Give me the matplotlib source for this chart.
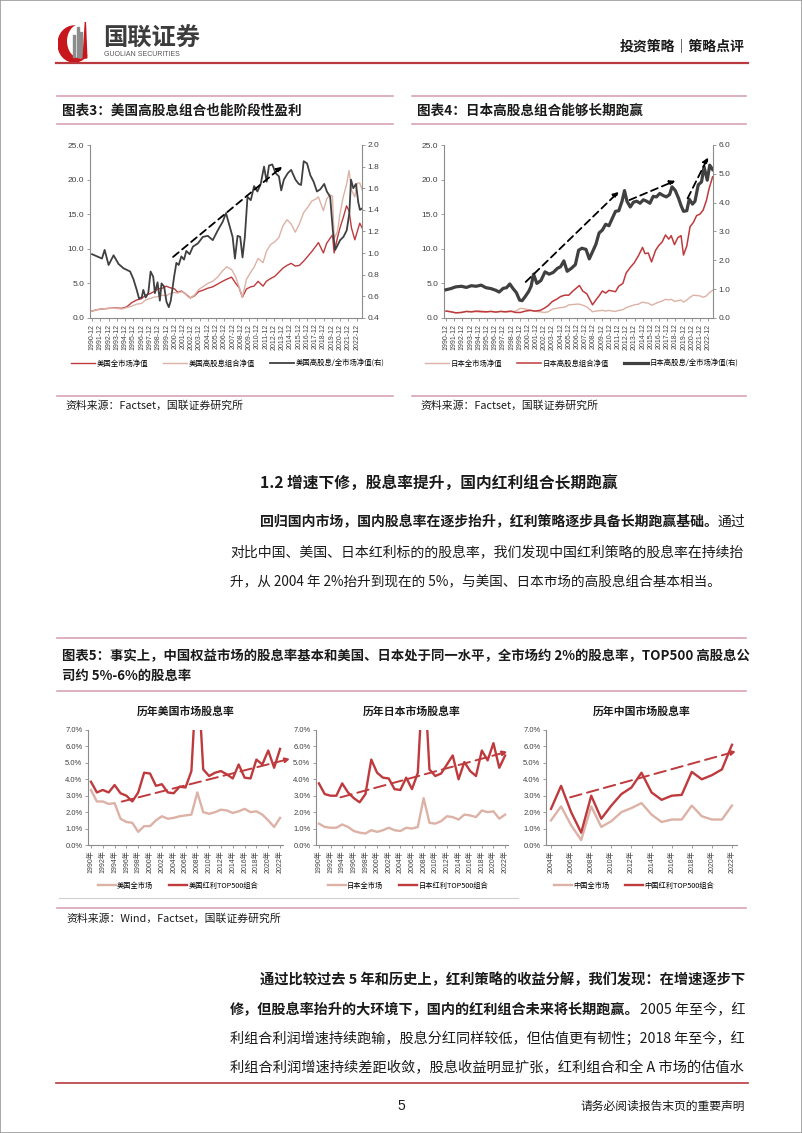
import matplotlib
matplotlib.use('Agg')
import matplotlib.pyplot as plt
import matplotlib.ticker as mticker
from matplotlib.lines import Line2D
from matplotlib.patches import Ellipse, Rectangle, Polygon

plt.rcParams['font.family'] = ['Liberation Sans', 'Noto Sans CJK SC', 'DejaVu Sans']
CJK = ['Noto Sans CJK SC', 'DejaVu Sans']

RED = '#BE3A3D'
LIGHT = '#DDB2A6'
DARK = '#404040'
PINK = '#D9A3B3'
TXT = '#1a1a1a'

# ---------------- data: chart 3 (US net values, monthly-ish samples) ----------------
us_nav_t = [1990.92, 1991.5, 1992.1, 1993.0, 1993.8, 1994.5, 1995.1, 1995.7, 1996.3, 1996.9,
            1997.4, 1997.9, 1998.4, 1998.9, 1999.4, 1999.9, 2000.3, 2000.9, 2001.3, 2001.7,
            2002.1, 2002.5, 2002.8, 2003.3, 2003.8, 2004.3, 2004.9, 2005.5, 2006.1, 2006.7,
            2007.2, 2007.8, 2008.3, 2008.7, 2009.1, 2009.6, 2010.1, 2010.5, 2011.0, 2011.6,
            2012.0, 2012.5, 2013.0, 2013.5, 2014.0, 2014.5, 2015.0, 2015.5, 2016.0, 2016.5,
            2017.0, 2017.5, 2018.0, 2018.3, 2018.9, 2019.3, 2019.7, 2020.0, 2020.2, 2020.6,
            2020.9, 2021.3, 2021.7, 2022.0, 2022.3, 2022.7, 2023.0, 2023.3, 2023.6]
us_market = [1.0, 1.2, 1.3, 1.4, 1.45, 1.4, 1.6, 2.2, 2.6, 2.8,
             3.3, 3.5, 3.8, 4.2, 4.3, 4.6, 4.4, 4.2, 3.7, 3.9,
             3.6, 3.2, 2.9, 3.2, 3.8, 4.0, 4.3, 4.5, 4.9, 5.3,
             5.6, 5.9, 5.0, 4.4, 3.0, 4.2, 4.5, 4.6, 5.3, 4.6,
             5.3, 5.7, 6.0, 6.6, 7.2, 7.6, 7.9, 7.5, 7.6, 8.2,
             8.9, 9.6, 10.4, 10.9, 9.4, 10.8, 11.5, 12.0, 9.4, 11.6,
             13.0, 14.5, 16.2, 15.5, 13.0, 11.3, 12.5, 13.7, 13.0]
us_highdiv = [1.0, 1.2, 1.3, 1.4, 1.4, 1.3, 1.5, 1.7, 2.0, 2.1,
              2.6, 2.8, 3.0, 3.1, 3.3, 3.2, 3.5, 3.7, 3.6, 3.8,
              3.6, 3.1, 2.9, 3.3, 4.1, 4.5, 5.0, 5.3, 5.9, 6.8,
              7.4, 7.0, 5.9, 4.5, 3.0, 5.6, 6.6, 7.3, 8.6, 8.0,
              9.6, 10.6, 11.0, 11.6, 13.3, 14.2, 13.6, 12.4, 13.6, 15.2,
              16.0, 16.9, 17.2, 17.5, 15.5, 17.2, 17.8, 17.6, 11.5, 12.5,
              15.0, 17.5, 19.3, 21.3, 18.5, 17.5, 19.5, 19.5, 18.5]
us_ratio_t = [1990.92, 1992.12, 1992.44, 1992.92, 1993.52, 1994.12, 1994.72, 1995.52, 1995.92, 1996.32,
              1996.6, 1996.92, 1997.12, 1997.4, 1997.72, 1998.0, 1998.32, 1998.52, 1998.84, 1999.12,
              1999.32, 1999.64, 1999.92, 2000.2, 2000.44, 2000.84, 2001.12, 2001.4, 2001.72, 2002.04,
              2002.32, 2002.72, 2003.12, 2003.72, 2004.32, 2004.92, 2005.52, 2006.12, 2006.72, 2007.12,
              2007.52, 2007.92, 2008.2, 2008.52, 2008.84, 2009.12, 2009.4, 2009.72, 2010.12, 2010.52,
              2010.92, 2011.32, 2011.72, 2012.04, 2012.32, 2012.72, 2013.12, 2013.52, 2013.8, 2014.12,
              2014.6, 2015.0, 2015.52, 2015.92, 2016.2, 2016.52, 2016.92, 2017.32, 2017.72, 2018.12,
              2018.52, 2019.0, 2019.32, 2019.72, 2020.04, 2020.32, 2020.6, 2020.92, 2021.32, 2021.72,
              2022.04, 2022.24, 2022.52, 2022.84, 2023.12, 2023.32, 2023.52]
us_ratio = [0.99, 0.95, 1.03, 0.89, 0.98, 0.90, 0.86, 0.83, 0.76, 0.66,
            0.58, 0.59, 0.66, 0.59, 0.63, 0.83, 0.78, 0.63, 0.73, 0.56,
            0.72, 0.69, 0.55, 0.50, 0.56, 0.78, 0.91, 0.89, 0.97, 0.94,
            1.02, 0.99, 1.06, 1.09, 1.15, 1.16, 1.12, 1.21, 1.29, 1.37,
            1.26, 1.15, 0.95, 1.16, 1.15, 0.96, 1.15, 1.52, 1.49, 1.62,
            1.57, 1.64, 1.80, 1.66, 1.81, 1.82, 1.74, 1.71, 1.58, 1.68,
            1.74, 1.77, 1.68, 1.64, 1.63, 1.85, 1.83, 1.72, 1.66, 1.57,
            1.59, 1.64, 1.57, 1.52, 1.21, 1.03, 1.07, 1.12, 1.15, 1.21,
            1.37, 1.68, 1.60, 1.64, 1.47, 1.40, 1.41]
us_trend = [(2000.72, 0.965), (2013.92, 1.80)]

# ---------------- data: chart 4 (Japan net values) ----------------
jp_nav_t = [1990.92, 1991.5, 1992.1, 1992.8, 1993.4, 1994.0, 1994.6, 1995.2, 1995.8, 1996.4,
            1997.0, 1997.6, 1998.2, 1998.8, 1999.4, 2000.0, 2000.6, 2001.2, 2001.8, 2002.4,
            2002.9, 2003.4, 2003.9, 2004.4, 2004.9, 2005.4, 2005.9, 2006.4, 2006.9, 2007.2,
            2007.6, 2008.1, 2008.5, 2008.8, 2009.2, 2009.6, 2010.0, 2010.4, 2010.8, 2011.2,
            2011.6, 2012.0, 2012.5, 2012.9, 2013.4, 2013.9, 2014.4, 2014.9, 2015.2, 2015.6,
            2016.0, 2016.5, 2016.9, 2017.3, 2017.7, 2018.1, 2018.4, 2018.8, 2019.2, 2019.6,
            2019.9, 2020.3, 2020.7, 2021.1, 2021.5, 2021.9, 2022.3, 2022.7, 2023.0, 2023.45]
jp_highdiv = [1.0, 0.9, 0.75, 0.8, 0.95, 0.9, 1.0, 0.95, 0.9, 0.95,
              0.85, 0.95, 0.9, 1.0, 0.8, 0.8, 1.0, 1.1, 1.0, 1.1,
              1.4, 1.8, 2.4, 2.7, 3.1, 3.3, 3.3, 3.9, 4.4, 4.7,
              3.9, 3.5, 2.6, 1.9, 2.6, 3.2, 3.9, 3.6, 4.0, 3.9,
              3.8, 4.6, 5.0, 6.5, 7.3, 8.0, 9.0, 10.2, 9.3, 9.4,
              8.1, 9.8, 10.5, 11.0, 12.0, 11.4, 11.9, 10.6, 11.6, 11.9,
              9.1, 10.4, 13.2, 13.8, 14.8, 15.0, 15.6, 17.0, 18.6, 20.4]
jp_market = [1.0, 0.9, 0.75, 0.8, 0.95, 0.85, 0.9, 0.85, 0.85, 0.95,
             0.9, 0.95, 0.85, 0.9, 1.0, 1.4, 1.3, 1.15, 0.95, 0.9,
             0.8, 0.9, 1.3, 1.4, 1.5, 1.55, 1.9, 1.95, 2.0, 2.0,
             1.85, 1.6, 1.2, 0.9, 1.0, 1.05, 1.1, 1.0, 1.1, 1.0,
             0.95, 1.1, 1.2, 1.5, 1.7, 1.9, 2.0, 2.3, 2.2, 2.15,
             1.85, 2.1, 2.3, 2.45, 2.7, 2.6, 2.7, 2.4, 2.5, 2.6,
             2.3, 2.6, 3.0, 3.3, 3.25, 3.2, 3.0, 3.2, 3.6, 4.0]
jp_ratio_t = [1990.92, 1991.5, 1992.1, 1992.8, 1993.4, 1994.0, 1994.6, 1995.2, 1995.8, 1996.4,
              1997.0, 1997.4, 1997.9, 1998.3, 1998.7, 1999.1, 1999.5, 1999.9, 2000.2, 2000.6,
              2001.0, 2001.3, 2001.6, 2002.0, 2002.5, 2003.0, 2003.5, 2004.0, 2004.5, 2004.9,
              2005.3, 2005.7, 2006.2, 2006.7, 2007.1, 2007.5, 2008.0, 2008.4, 2008.8, 2009.2,
              2009.6, 2010.0, 2010.4, 2010.8, 2011.2, 2011.6, 2012.0, 2012.4, 2012.7, 2013.0,
              2013.4, 2013.8, 2014.2, 2014.6, 2015.0, 2015.4, 2015.8, 2016.2, 2016.6, 2017.0,
              2017.4, 2017.8, 2018.2, 2018.5, 2018.9, 2019.3, 2019.6, 2019.9, 2020.3, 2020.6,
              2021.0, 2021.3, 2021.7, 2022.1, 2022.4, 2022.8, 2023.1, 2023.45]
jp_ratio = [0.98, 1.02, 1.08, 1.10, 1.06, 1.12, 1.10, 1.14, 1.05, 1.02,
            0.96, 0.90, 1.03, 1.05, 1.18, 1.02, 0.88, 0.62, 0.60, 0.75,
            0.92, 1.10, 1.52, 1.20, 1.30, 1.60, 1.52, 1.58, 1.72, 1.78,
            1.98, 1.62, 1.72, 1.85, 2.35, 2.42, 2.38, 2.05, 2.30, 2.55,
            2.95, 3.05, 3.25, 3.20, 3.45, 3.70, 3.72, 4.05, 4.42, 4.05,
            3.85, 4.02, 4.05, 3.98, 4.10, 4.05, 3.98, 4.22, 4.20, 4.32,
            4.25, 4.20, 4.28, 4.55, 4.42, 4.15, 3.90, 3.70, 3.72, 4.12,
            3.95, 4.05, 4.62, 4.72, 5.25, 4.78, 5.30, 5.15]
jp_trends = [[(2000.64, 1.25), (2012.0, 4.38)],
             [(2013.3, 4.09), (2018.9, 4.76)],
             [(2020.4, 4.15), (2022.9, 5.57)]]

# ---------------- data: figure 5 (dividend yields, %) ----------------
yrs_long = list(range(1990, 2023))
us_top500 = [3.85, 3.2, 3.35, 3.2, 3.65, 3.15, 3.0, 2.65, 3.2, 4.4,
             4.35, 3.6, 3.7, 3.2, 3.15, 3.55, 3.5, 4.5, 11.0, 4.6,
             4.2, 4.4, 4.5, 4.3, 4.05, 4.9, 4.1, 4.05, 5.2, 4.9,
             5.75, 4.7, 5.85]
us_all = [3.35, 2.65, 2.65, 2.5, 2.55, 1.6, 1.4, 1.35, 0.8, 1.15,
          1.15, 1.5, 1.75, 1.6, 1.65, 1.75, 1.8, 1.85, 3.2, 2.0,
          1.9, 2.0, 2.15, 2.1, 1.95, 2.05, 2.2, 2.0, 2.05, 1.85,
          1.5, 1.1, 1.65]
jp_top500 = [3.75, 3.1, 3.0, 3.0, 3.75, 3.2, 2.85, 2.6, 3.1, 5.2,
             4.4, 4.1, 4.05, 3.4, 3.35, 4.1, 3.4, 4.4, 11.0, 4.6,
             4.2, 4.35, 4.9, 5.45, 4.0, 5.05, 4.5, 4.2, 5.75, 5.15,
             6.2, 4.7, 5.45]
jp_all = [1.3, 1.1, 1.05, 1.05, 1.25, 1.1, 0.85, 0.75, 0.7, 0.9,
          0.8, 0.9, 1.05, 0.9, 0.85, 1.05, 1.0, 1.1, 2.85, 1.35,
          1.3, 1.45, 1.75, 1.7, 1.55, 1.85, 1.8, 1.7, 2.1, 2.0,
          2.05, 1.6, 1.85]
yrs_cn = list(range(2004, 2023))
cn_top500 = [2.2, 3.6, 2.0, 0.75, 3.0, 1.6, 2.4, 3.1, 3.5, 4.4,
             3.2, 2.75, 3.0, 3.05, 4.45, 4.0, 4.25, 4.6, 6.1]
cn_all = [1.5, 2.35, 1.2, 0.3, 2.35, 1.1, 1.45, 2.0, 2.25, 2.55,
          1.85, 1.4, 1.55, 1.55, 2.4, 1.75, 1.55, 1.55, 2.4]
us_yield_trend = [(1995.2, 2.64), (2023.7, 5.25)]
jp_yield_trend = [(1993.7, 2.9), (2022.4, 5.68)]
cn_yield_trend = [(2005.9, 2.9), (2022.4, 5.7)]

# ---------------- page text ----------------
heading = '1.2 增速下修，股息率提升，国内红利组合长期跑赢'
para1 = [[('回归国内市场，国内股息率在逐步抬升，红利策略逐步具备长期跑赢基础。', True), ('通过', False)],
         [('对比中国、美国、日本红利标的的股息率，我们发现中国红利策略的股息率在持续抬', False)],
         [('升，从 2004 年 2%抬升到现在的 5%，与美国、日本市场的高股息组合基本相当。', False)]]
para2 = [[('通过比较过去 5 年和历史上，红利策略的收益分解，我们发现：在增速逐步下', True)],
         [('修，但股息率抬升的大环境下，国内的红利组合未来将长期跑赢。', True), ('2005 年至今，红', False)],
         [('利组合利润增速持续跑输，股息分红同样较低，但估值更有韧性；2018 年至今，红', False)],
         [('利组合利润增速持续差距收敛，股息收益明显扩张，红利组合和全 A 市场的估值水', False)]]

W, H = 802, 1133
RIGHT = 746
fig = plt.figure(figsize=(W / 100, H / 100), dpi=100)
fig.patch.set_facecolor('white')


def fx(x):
    return x / W


def fy(y):
    return 1 - y / H


def rect(x0, y0, x1, y1):
    return [x0 / W, 1 - y1 / H, (x1 - x0) / W, (y1 - y0) / H]


def hline(y, x0, x1, color, lw=1.0):
    fig.add_artist(Line2D([fx(x0), fx(x1)], [fy(y), fy(y)], color=color, lw=lw))


def put(x, y, s, size, bold=False, ha='left', color=TXT, family=CJK):
    return fig.text(fx(x), fy(y), s, fontsize=size, ha=ha, va='center', color=color,
                    fontweight='bold' if bold else 'normal', family=family)


def rich(x, y, parts, size, justify=True):
    # draw runs side by side; full lines are scaled to end at the right margin
    r = fig.canvas.get_renderer()

    def draw(sz):
        cx = x
        out = []
        for s, bold in parts:
            t = put(cx, y, s, sz, bold=bold)
            cx = t.get_window_extent(renderer=r).x1
            out.append(t)
        return out, cx

    texts, end = draw(size)
    if justify:
        k = (RIGHT - x) / (end - x)
        for t in texts:
            t.remove()
        draw(size * k)


# page frame
fig.add_artist(Rectangle((0, 0), 1, 1, transform=fig.transFigure, fill=False,
                         edgecolor='#9a9a9a', lw=1.2))

# ---------------- header ----------------
lg = fig.add_axes(rect(58, 22, 94, 62))
lg.set_xlim(0, 1)
lg.set_ylim(0, 1)
lg.axis('off')
lg.add_patch(Ellipse((0.45, 0.45), 0.9, 0.9, color='#C8161D'))
lg.add_patch(Ellipse((0.62, 0.52), 0.7, 0.82, color='white'))
for bx, bh in [(0.42, 0.55), (0.52, 0.75), (0.62, 0.62)]:
    lg.add_patch(Rectangle((bx, 0.12), 0.06, bh, color='#8c8c8c'))
lg.add_patch(Polygon([[0.70, 0.1], [0.80, 0.1], [0.76, 1.0]], color='#C8161D'))

put(103, 39, '国联证券', 17.5, bold=True, color='#3c3c3c')
put(104, 55, 'GUOLIAN SECURITIES', 5, color='#555555', family=['Liberation Sans'])
put(745, 47, '投资策略｜策略点评', 10, bold=True, ha='right')
hline(63, 56, 748, '#B83A3E', 1.6)

# ---------------- figure 3/4 captions ----------------
for x0, x1, cap in [(57, 393, '图表3：美国高股息组合也能阶段性盈利'),
                    (412, 746, '图表4：日本高股息组合能够长期跑赢')]:
    hline(96, x0, x1, PINK, 1.2)
    hline(124, x0, x1, PINK, 1.2)
    put(x0 + 5, 111, cap, 9.8, bold=True)
    hline(396, x0, x1, PINK, 1.2)
    put(x0 + 8, 406, '资料来源：Factset，国联证券研究所', 7.8)


def style_axis(ax, color='#8c8c8c'):
    for s in ['top', 'right']:
        ax.spines[s].set_visible(False)
    for s in ['left', 'bottom']:
        ax.spines[s].set_color(color)
        ax.spines[s].set_linewidth(0.8)
    ax.tick_params(colors='#404040', length=2, width=0.6, pad=2)
    ax.tick_params(axis='both', color=color)
    ax.patch.set_alpha(0)


def nav_chart(box, t_nav, first, second, t_ratio, ratio, first_kw, second_kw, ratio_lw,
              rlim, rstep, legend_names, trends, leg_x):
    ax = fig.add_axes(rect(*box))
    style_axis(ax)
    ax.plot(t_nav, first, **first_kw)
    ax.plot(t_nav, second, **second_kw)
    ax.set_ylim(0, 25)
    ax.yaxis.set_major_locator(mticker.MultipleLocator(5))
    ax.yaxis.set_major_formatter(mticker.FormatStrFormatter('%.1f'))
    ax.set_xlim(1990.92 - 0.25, t_ratio[-1] + 0.05)
    ax.set_xticks([y + 0.92 for y in range(1990, 2023)])
    ax.set_xticklabels([f'{y}-12' for y in range(1990, 2023)], rotation=90, fontsize=5)
    ax.tick_params(axis='y', labelsize=6)
    ax2 = ax.twinx()
    for s in ['top', 'left', 'bottom']:
        ax2.spines[s].set_visible(False)
    ax2.spines['right'].set_color('#8c8c8c')
    ax2.spines['right'].set_linewidth(0.8)
    ax2.tick_params(colors='#404040', labelsize=6, length=2, width=0.6, pad=2, color='#8c8c8c')
    ax2.plot(t_ratio, ratio, color=DARK, lw=ratio_lw, solid_joinstyle='round')
    ax2.set_ylim(*rlim)
    ax2.yaxis.set_major_locator(mticker.MultipleLocator(rstep))
    ax2.yaxis.set_major_formatter(mticker.FormatStrFormatter('%.1f'))
    for a, b in trends:
        ax2.annotate('', xy=b, xytext=a,
                     arrowprops=dict(arrowstyle='-|>', color='black', lw=1.3,
                                     ls=(0, (4, 2.5)), mutation_scale=8,
                                     shrinkA=0, shrinkB=0))
    handles = [Line2D([], [], **first_kw), Line2D([], [], **second_kw),
               Line2D([], [], color=DARK, lw=ratio_lw)]
    fig.legend(handles, legend_names, loc='center', bbox_to_anchor=(fx(leg_x), fy(364)),
               ncol=3, frameon=False, handlelength=3.2, columnspacing=2.0,
               handletextpad=0.3, prop={'family': CJK, 'size': 5.3})
    return ax


nav_chart((90, 145, 362, 318), us_nav_t, us_market, us_highdiv, us_ratio_t, us_ratio,
          dict(color=RED, lw=1.0), dict(color=LIGHT, lw=1.0), 1.3,
          (0.4, 2.0), 0.2, ['美国全市场净值', '美国高股息组合净值', '美国高股息/全市场净值(右)'],
          [us_trend], 228)
nav_chart((444, 145, 713, 318), jp_nav_t, jp_market, jp_highdiv, jp_ratio_t, jp_ratio,
          dict(color=LIGHT, lw=1.0), dict(color=RED, lw=1.1), 2.3,
          (0, 6.0), 1.0, ['日本全市场净值', '日本高股息组合净值', '日本高股息/全市场净值(右)'],
          jp_trends, 582)

# ---------------- section 1.2 ----------------
put(260, 484, heading, 11.3, bold=True)
rich(260, 522, para1[0], 9.8)
rich(230, 552, para1[1], 9.8)
rich(230, 582, para1[2], 9.8, justify=False)

# ---------------- figure 5 ----------------
hline(638, 57, 746, PINK, 1.2)
put(62, 656, '图表5：事实上，中国权益市场的股息率基本和美国、日本处于同一水平，全市场约 2%的股息率，TOP500 高股息公', 9.6, bold=True)
put(62, 676, '司约 5%-6%的股息率', 9.6, bold=True)
hline(691, 57, 746, PINK, 1.2)


def yield_chart(box, years, top, allm, title, tick_years, trend, names, leg_x):
    ax = fig.add_axes(rect(*box))
    style_axis(ax)
    ax.plot(years, allm, color=LIGHT, lw=1.7)
    ax.plot(years, top, color=RED, lw=1.7)
    ax.set_ylim(0, 7)
    ax.set_xlim(years[0] - 0.5, years[-1] + 0.5)
    ax.yaxis.set_major_locator(mticker.MultipleLocator(1))
    ax.yaxis.set_major_formatter(mticker.FormatStrFormatter('%.1f%%'))
    ax.set_xticks(tick_years)
    ax.set_xticklabels([f'{y}年' for y in tick_years], rotation=90, fontsize=5)
    ax.tick_params(axis='y', labelsize=5.5)
    ax.annotate('', xy=trend[1], xytext=trend[0], annotation_clip=False,
                arrowprops=dict(arrowstyle='-|>', color=RED, lw=1.4, ls=(0, (6, 3)),
                                mutation_scale=7, shrinkA=0, shrinkB=0))
    cx = (box[0] + box[2]) / 2
    put(cx, 711, title, 7.8, bold=True, ha='center')
    handles = [Line2D([], [], color=LIGHT, lw=1.7), Line2D([], [], color=RED, lw=1.7)]
    fig.legend(handles, names, loc='center', bbox_to_anchor=(fx(leg_x), fy(886)),
               ncol=2, frameon=False, handlelength=2.5, columnspacing=2.2,
               handletextpad=0.2, prop={'family': CJK, 'size': 5.2})


yield_chart((88, 730, 283, 845), yrs_long, us_top500, us_all, '历年美国市场股息率',
            list(range(1990, 2023, 2)), us_yield_trend, ['美国全市场', '美国红利TOP500组合'], 178)
yield_chart((316, 730, 508, 845), yrs_long, jp_top500, jp_all, '历年日本市场股息率',
            list(range(1990, 2023, 2)), jp_yield_trend, ['日本全市场', '日本红利TOP500组合'], 408)
yield_chart((546, 730, 737, 845), yrs_cn, cn_top500, cn_all, '历年中国市场股息率',
            list(range(2004, 2023, 2)), cn_yield_trend, ['中国全市场', '中国红利TOP500组合'], 634)

hline(898, 59, 518, '#d0d0d0', 0.8)
hline(908, 57, 746, PINK, 1.2)
put(66, 919, '资料来源：Wind，Factset，国联证券研究所', 7.8)

# ---------------- closing paragraph ----------------
rich(260, 980, para2[0], 9.8)
rich(230, 1010, para2[1], 9.8)
rich(230, 1039, para2[2], 9.8)
rich(230, 1068, para2[3], 9.8)

hline(1083, 56, 748, '#B83A3E', 1.2)
put(401, 1106, '5', 10, ha='center', family=['Liberation Sans'])
put(745, 1106, '请务必阅读报告末页的重要声明', 8.5, ha='right')

fig.savefig('out.png', dpi=100)
